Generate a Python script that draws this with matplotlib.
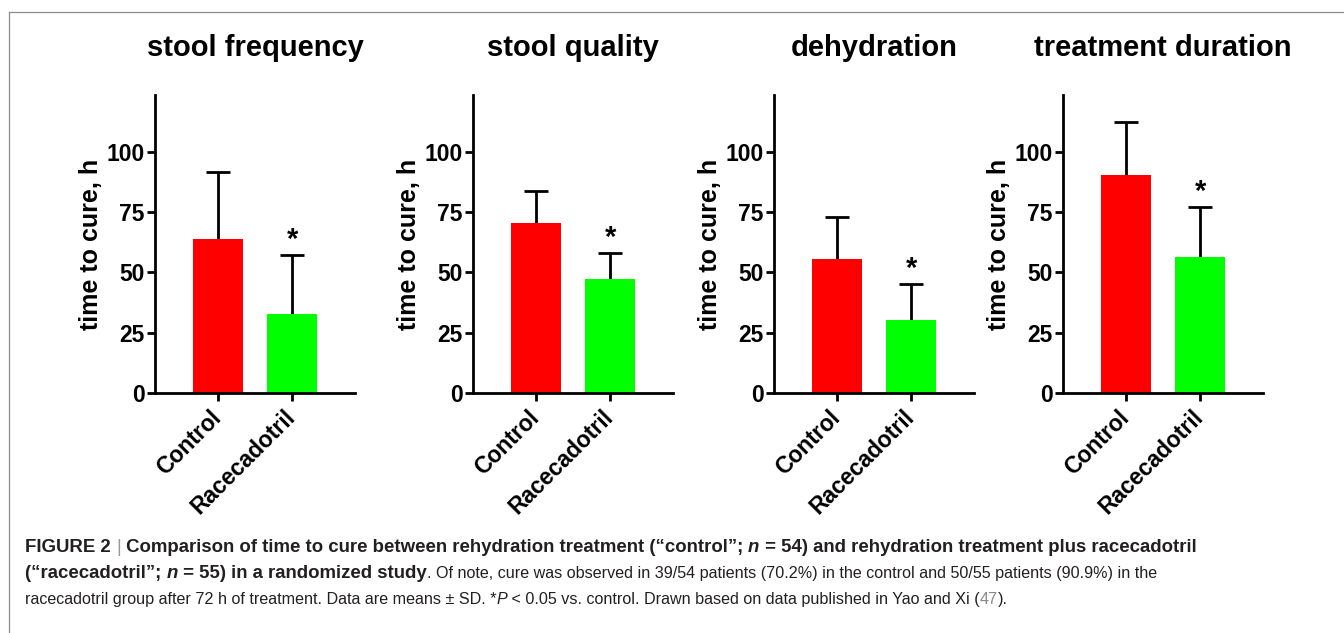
import matplotlib
matplotlib.use('Agg')
import matplotlib.pyplot as plt
from matplotlib import font_manager
from matplotlib.lines import Line2D
from matplotlib.transforms import IdentityTransform

# data (means and upward SD)
titles = ['stool frequency', 'stool quality', 'dehydration', 'treatment duration']
groups = ['Control', 'Racecadotril']
control_mean = [64.0, 70.7, 55.7, 90.6]
control_sd = [27.7, 13.0, 17.2, 21.6]
raceca_mean = [32.8, 47.4, 30.3, 56.3]
raceca_sd = [24.5, 10.7, 14.9, 20.9]
yticks = [0, 25, 50, 75, 100]
colors = ['#ff0000', '#00ff00']

W, H = 1344, 633
plt.rcParams['font.family'] = ['Liberation Sans', 'DejaVu Sans']
plt.rcParams['font.weight'] = 'bold'

fig = plt.figure(figsize=(W / 100, H / 100), dpi=100)

# thin grey frame (top and left)
fig.add_artist(Line2D([9 / W, 1], [621 / H, 621 / H], transform=fig.transFigure, color='#8c8c8c', lw=0.9))
fig.add_artist(Line2D([9 / W, 9 / W], [0, 621 / H], transform=fig.transFigure, color='#8c8c8c', lw=0.9))

lefts = [155, 473, 774, 1063]
for i, left in enumerate(lefts):
    ax = fig.add_axes([left / W, (H - 393) / H, 200 / W, 298 / H])
    means = [control_mean[i], raceca_mean[i]]
    sds = [control_sd[i], raceca_sd[i]]
    x = [0, 1]
    eb = ax.errorbar(x, means, yerr=[[0, 0], sds], fmt='none', ecolor='black',
                     elinewidth=2, capsize=8.5, capthick=2, zorder=1)
    eb[1][0].set_visible(False)  # no cap at the bar top
    ax.bar(x, means, width=0.67, color=colors, zorder=2)
    ax.text(1, raceca_mean[i] + raceca_sd[i] + 3, '*', ha='center', va='baseline',
            fontsize=21, fontweight='bold')

    ax.set_xlim(-0.845, 1.845)
    ax.set_ylim(0, 123.6)
    ax.set_yticks(yticks)
    ax.set_xticks(x)
    ax.set_xticklabels(groups, rotation=45, ha='right', va='center', rotation_mode='anchor')
    for s in ['top', 'right']:
        ax.spines[s].set_visible(False)
    for s in ['left', 'bottom']:
        ax.spines[s].set_linewidth(2)
    ax.tick_params(axis='both', length=6, width=2, labelsize=16.5, pad=1.5)
    ax.tick_params(axis='x', pad=9)
    ax.set_ylabel('time to cure, h', fontsize=18, fontweight='bold')
    ax.yaxis.set_label_coords(-0.26, 0.5)
    ax.text(0.5, (393 - 48) / 298, titles[i], transform=ax.transAxes, ha='center', va='center',
            fontsize=21, fontweight='bold')

# caption
names = {f.name for f in font_manager.fontManager.ttflist}
cap_font = ['Liberation Sans Narrow', 'DejaVu Sans'] if 'Liberation Sans Narrow' in names else ['Liberation Sans', 'DejaVu Sans']
ink = '#231f20'
renderer = fig.canvas.get_renderer()


def run_width(s, size, weight, style):
    t = fig.text(0, 0, '|' + s + '|', fontsize=size, fontweight=weight, fontstyle=style, family=cap_font)
    w = t.get_window_extent(renderer).width
    t.remove()
    t = fig.text(0, 0, '||', fontsize=size, fontweight=weight, fontstyle=style, family=cap_font)
    w -= t.get_window_extent(renderer).width
    t.remove()
    return w


line1 = [('FIGURE 2 ', 'bold', 'normal', ink),
         ('|', 'normal', 'normal', '#9a9a9a'),
         (' Comparison of time to cure between rehydration treatment (\u201ccontrol\u201d; ', 'bold', 'normal', ink),
         ('n', 'bold', 'italic', ink),
         (' = 54) and rehydration treatment plus racecadotril', 'bold', 'normal', ink)]
line2 = [('(\u201cracecadotril\u201d; ', 'bold', 'normal', ink),
         ('n', 'bold', 'italic', ink),
         (' = 55) in a randomized study', 'bold', 'normal', ink),
         ('. Of note, cure was observed in 39/54 patients (70.2%) in the control and 50/55 patients (90.9%) in the',
          'normal', 'normal', ink)]
line3 = [('racecadotril group after 72 h of treatment. Data are means \u00b1 SD. *', 'normal', 'normal', ink),
         ('P', 'normal', 'italic', ink),
         (' < 0.05 vs. control. Drawn based on data published in Yao and Xi (', 'normal', 'normal', ink),
         ('47', 'normal', 'normal', '#8a8a8a'),
         (').', 'normal', 'normal', ink)]

# fit bold text to line 1 width and regular text to line 3 width
base = 14.5
w1 = sum(run_width(r[0], base, r[1], r[2]) for r in line1)
size_bold = base * (1204 - 25) / w1
w3 = sum(run_width(r[0], base, r[1], r[2]) for r in line3)
size_norm = base * (1012 - 25) / w3

for runs, yc in [(line1, 546), (line2, 572), (line3, 598)]:
    xpos = 25
    for s, weight, style, col in runs:
        sz = size_bold if weight == 'bold' else size_norm
        if s == '|':
            sz = size_bold
        fig.text(xpos, H - yc, s, fontsize=sz, fontweight=weight, fontstyle=style, color=col,
                 family=cap_font, va='center_baseline', transform=IdentityTransform())
        xpos += run_width(s, sz, weight, style)

fig.savefig('out.png', dpi=100)
